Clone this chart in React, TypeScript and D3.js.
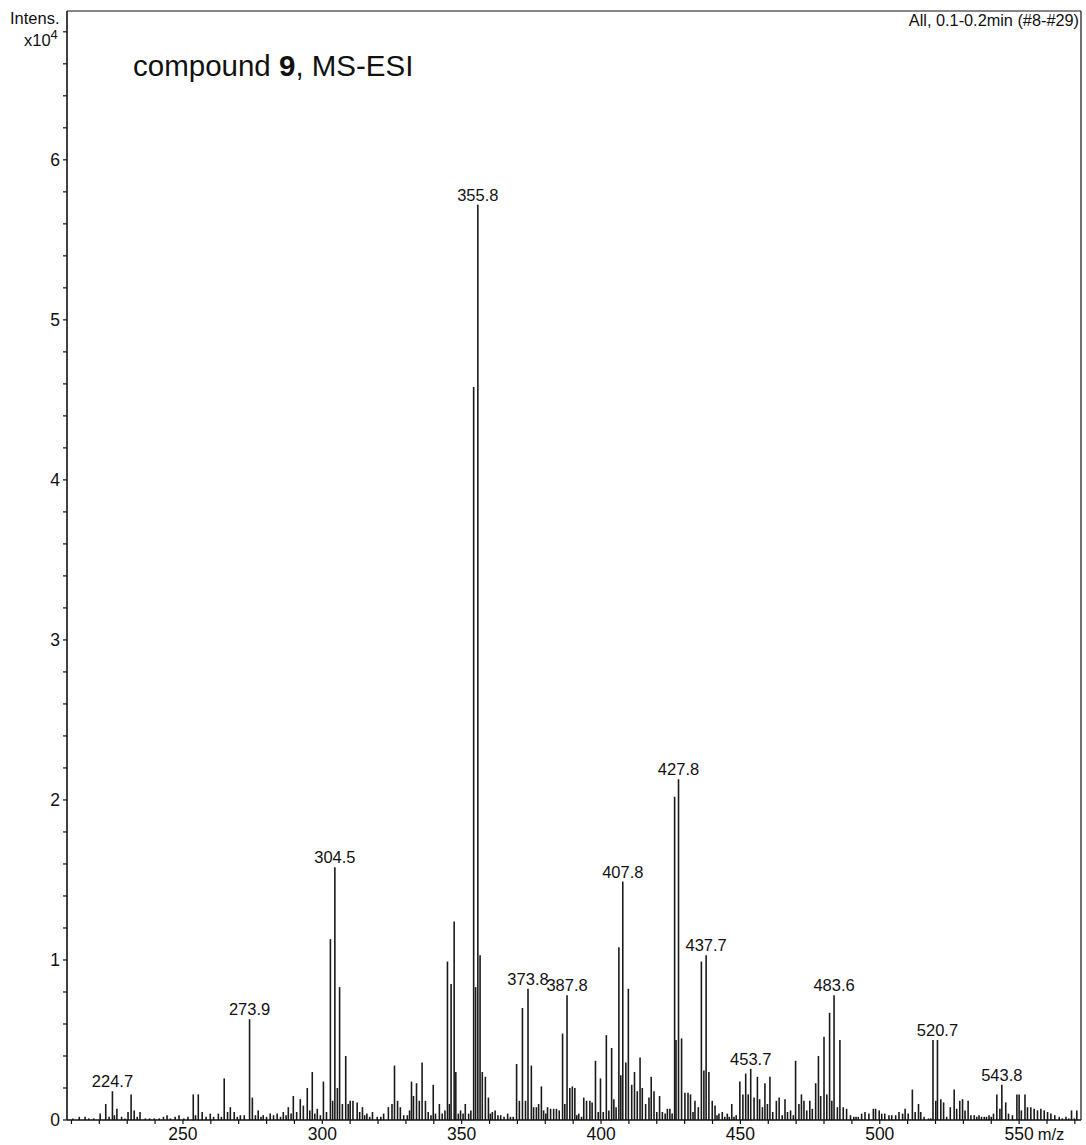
import React from "react";
import * as d3 from "d3";

// m/z, intensity (x10^4)
const peaksLow: [number, number][] = [
  [210.5, 0.01], [212.8, 0.02], [214.9, 0.02], [216.2, 0.01], [218.0, 0.01], [220.3, 0.04], [222.3, 0.1],
  [223.5, 0.02], [224.7, 0.18], [225.4, 0.03], [226.3, 0.07], [228.0, 0.02], [229.2, 0.01], [230.3, 0.05],
  [231.4, 0.16], [232.5, 0.06], [233.6, 0.02], [234.6, 0.05], [236.5, 0.01], [238.0, 0.01], [239.7, 0.01],
  [241.5, 0.01], [243.0, 0.02], [244.3, 0.03], [245.5, 0.01], [247.2, 0.02], [248.6, 0.03], [250.3, 0.01],
  [251.8, 0.02], [253.7, 0.16], [254.5, 0.03], [255.5, 0.16], [256.9, 0.05], [258.3, 0.02], [259.8, 0.04],
  [261.0, 0.02], [262.7, 0.04], [263.8, 0.02], [264.8, 0.26], [266.0, 0.05], [267.0, 0.08], [268.4, 0.05],
  [269.5, 0.02], [270.6, 0.03], [272.0, 0.03], [273.9, 0.63], [274.9, 0.14], [276.0, 0.03], [277.0, 0.06],
  [278.0, 0.02], [278.8, 0.03], [280.0, 0.02], [281.3, 0.04], [282.5, 0.03], [283.8, 0.04], [285.0, 0.02],
  [286.0, 0.05], [287.0, 0.03], [287.8, 0.08], [288.8, 0.04], [289.6, 0.15], [290.8, 0.05], [292.1, 0.13],
  [293.2, 0.09], [294.6, 0.2], [295.5, 0.06], [296.4, 0.3], [297.3, 0.04], [298.2, 0.07], [299.3, 0.03],
  [300.4, 0.24], [301.5, 0.05],
];

const peaksMid: [number, number][] = [
  [302.9, 1.13], [303.7, 0.12], [304.5, 1.58], [305.4, 0.2], [306.2, 0.83], [307.2, 0.1], [308.4, 0.4],
  [309.3, 0.1], [310.0, 0.12], [311.0, 0.12], [312.5, 0.11], [313.4, 0.05], [314.4, 0.08], [315.2, 0.03],
  [316.0, 0.04], [317.0, 0.02], [318.0, 0.05], [319.7, 0.02], [321.0, 0.02], [322.0, 0.04], [323.7, 0.08],
  [325.0, 0.1], [325.9, 0.34], [327.0, 0.12], [328.0, 0.08], [329.2, 0.03], [330.5, 0.03], [331.3, 0.06],
  [332.0, 0.24], [332.7, 0.15], [333.8, 0.23], [334.8, 0.12], [335.8, 0.36], [337.0, 0.12], [338.0, 0.05],
  [339.0, 0.03], [339.8, 0.22], [340.6, 0.04], [342.0, 0.1], [343.0, 0.04], [344.0, 0.06], [344.9, 0.99],
  [345.6, 0.1], [346.2, 0.85], [347.3, 1.24], [347.9, 0.3], [348.8, 0.04], [349.6, 0.06], [350.5, 0.04],
  [351.3, 0.1], [352.5, 0.04], [353.3, 0.06], [354.3, 4.58], [355.0, 0.83], [355.8, 5.72], [356.6, 1.03],
  [357.4, 0.3], [358.5, 0.27], [359.6, 0.14], [360.3, 0.04], [361.0, 0.05], [362.0, 0.06], [363.0, 0.03],
  [364.0, 0.03], [365.2, 0.02], [366.5, 0.04], [367.5, 0.02], [368.5, 0.02], [369.7, 0.35], [370.7, 0.12],
  [371.8, 0.7], [372.9, 0.12], [373.8, 0.82], [375.0, 0.34], [375.8, 0.08], [376.8, 0.08], [377.6, 0.1],
  [378.6, 0.21], [379.4, 0.06], [380.2, 0.04], [380.8, 0.08], [381.9, 0.07], [383.0, 0.07], [384.0, 0.07],
  [385.0, 0.06], [386.2, 0.54], [387.0, 0.1], [387.8, 0.78], [388.8, 0.2], [389.7, 0.21], [390.6, 0.2],
  [391.3, 0.03], [392.0, 0.04], [393.0, 0.02], [393.8, 0.14], [394.8, 0.12], [396.0, 0.12], [396.8, 0.11],
  [398.0, 0.37], [399.0, 0.05], [399.8, 0.26], [400.8, 0.05],
];

const peaksHigh: [number, number][] = [
  [401.9, 0.53], [402.8, 0.06], [403.8, 0.45], [404.6, 0.13], [405.4, 0.08], [406.4, 1.08], [407.1, 0.28],
  [407.8, 1.49], [408.9, 0.36], [409.8, 0.82], [411.0, 0.22], [412.0, 0.3], [413.0, 0.18], [414.0, 0.39],
  [414.8, 0.2], [416.0, 0.1], [417.2, 0.14], [418.0, 0.27], [419.0, 0.18], [420.0, 0.05], [421.0, 0.15],
  [422.0, 0.05], [423.0, 0.04], [423.8, 0.07], [424.7, 0.07], [425.5, 0.04], [426.4, 2.02], [426.9, 0.5],
  [427.8, 2.13], [428.9, 0.51], [430.1, 0.17], [431.2, 0.17], [432.1, 0.16], [433.0, 0.05], [433.7, 0.12],
  [434.9, 0.08], [436.0, 0.99], [436.9, 0.31], [437.7, 1.03], [438.7, 0.3], [439.9, 0.12], [440.9, 0.09],
  [441.6, 0.03], [442.3, 0.04], [443.5, 0.05], [444.4, 0.02], [445.3, 0.04], [446.0, 0.02], [446.9, 0.1],
  [447.7, 0.02], [448.5, 0.03], [449.8, 0.24], [450.9, 0.16], [451.9, 0.29], [452.8, 0.16], [453.7, 0.32],
  [454.9, 0.14], [456.1, 0.27], [456.9, 0.13], [457.9, 0.08], [458.8, 0.23], [459.7, 0.1], [460.6, 0.27],
  [461.6, 0.05], [462.9, 0.12], [463.9, 0.14], [465.0, 0.03], [466.0, 0.13], [466.9, 0.05], [468.0, 0.06],
  [469.0, 0.03], [469.8, 0.37], [471.0, 0.1], [471.9, 0.16], [472.8, 0.12], [473.8, 0.06], [474.9, 0.12],
  [475.8, 0.07], [477.0, 0.23], [478.0, 0.4], [478.8, 0.15], [480.0, 0.52], [481.0, 0.16], [482.0, 0.67],
  [482.8, 0.12], [483.6, 0.78], [484.8, 0.08], [485.7, 0.5], [486.9, 0.08], [488.1, 0.07], [489.5, 0.03],
  [490.7, 0.02], [491.5, 0.02], [492.3, 0.02], [493.5, 0.04], [494.7, 0.05], [496.1, 0.04], [497.7, 0.07],
  [498.5, 0.07], [499.8, 0.06], [500.7, 0.04], [501.8, 0.04], [503.3, 0.03], [504.3, 0.03], [505.7, 0.03],
  [506.9, 0.05], [508.2, 0.04], [509.1, 0.07], [510.2, 0.04], [511.7, 0.19], [512.7, 0.05], [513.9, 0.1],
  [514.7, 0.05], [515.9, 0.02], [517.5, 0.01], [518.3, 0.01], [519.1, 0.5], [520.1, 0.12], [520.7, 0.5],
  [521.9, 0.13], [522.9, 0.11], [524.0, 0.02], [525.3, 0.08], [526.7, 0.19], [527.6, 0.07], [528.7, 0.12],
  [529.7, 0.13], [530.6, 0.06], [531.7, 0.12], [532.7, 0.03], [533.9, 0.03], [534.8, 0.02], [535.6, 0.03],
  [536.5, 0.02], [537.5, 0.02], [538.3, 0.02], [539.2, 0.03], [540.0, 0.02], [540.8, 0.04], [542.0, 0.16],
  [543.1, 0.07], [543.8, 0.22], [545.2, 0.11], [546.2, 0.04], [547.6, 0.03], [549.2, 0.16], [550.0, 0.16],
  [550.8, 0.06], [552.1, 0.16], [553.0, 0.08], [554.2, 0.08], [555.4, 0.07], [556.6, 0.06], [557.8, 0.07],
  [559.0, 0.06], [560.2, 0.05], [561.4, 0.04], [562.8, 0.03], [564.4, 0.02], [565.5, 0.01], [566.8, 0.02],
  [567.8, 0.01], [568.8, 0.06], [569.8, 0.01], [570.7, 0.06],
];

const labeledPeaks: string[] = [
  "224.7", "273.9", "304.5", "355.8", "373.8", "387.8", "407.8", "427.8", "437.7", "453.7", "483.6", "520.7", "543.8",
];

const xTickLabels: number[] = [250, 300, 350, 400, 450, 500, 550];
const yTickLabels: number[] = [0, 1, 2, 3, 4, 5, 6];

const FONT = "'Liberation Sans', Arial, Helvetica, sans-serif";

export default function App() {
  const W = 1086;
  const H = 1145;
  const left = 67;
  const right = 1081;
  const top = 11;
  const bottom = 1120;

  const x = d3.scaleLinear().domain([208.4, 572.2]).range([left, right]);
  const y = d3.scaleLinear().domain([0, 6.93]).range([bottom, top]);

  const peaks = [...peaksLow, ...peaksMid, ...peaksHigh];
  const minorX = d3.range(210, 572, 10);
  const minorY = d3.range(0, 6.9, 0.2);

  const labelData = labeledPeaks.map((l) => {
    const m = parseFloat(l);
    const p = peaks.reduce((best, q) => (Math.abs(q[0] - m) < Math.abs(best[0] - m) ? q : best), peaks[0]);
    return { label: l, mz: p[0], v: p[1] };
  });

  return (
    <svg
      width={W}
      height={H}
      viewBox={`0 0 ${W} ${H}`}
      style={{ position: "absolute", left: 0, top: 0, background: "#fff" }}
      fontFamily={FONT}
    >
      <rect x={0} y={0} width={W} height={H} fill="#fff" />
      {/* bars */}
      <g stroke="#1a1a1a" strokeWidth={1.6}>
        {peaks.map(([m, v], i) => (
          <line key={i} x1={x(m)} x2={x(m)} y1={y(0)} y2={y(v)} />
        ))}
      </g>
      {/* frame */}
      <g stroke="#111" fill="none">
        <line x1={left} x2={left} y1={top} y2={bottom} strokeWidth={1.6} />
        <line x1={left} x2={right} y1={bottom} y2={bottom} strokeWidth={1.6} />
        <line x1={left} x2={right} y1={top} y2={top} strokeWidth={1.2} />
        <line x1={right} x2={right} y1={top} y2={bottom} strokeWidth={1.2} />
      </g>
      {/* y ticks */}
      <g stroke="#111" strokeWidth={1.2}>
        {minorY.map((t, i) => (
          <line key={i} x1={left - 4} x2={left} y1={y(t)} y2={y(t)} />
        ))}
      </g>
      <g fontSize={17.5} fill="#111" textAnchor="end">
        {yTickLabels.map((t) => (
          <text key={t} x={left - 7} y={y(t) + 6}>
            {t}
          </text>
        ))}
      </g>
      {/* x ticks */}
      <g stroke="#111" strokeWidth={1.2}>
        {minorX.map((t, i) => (
          <line key={i} x1={x(t)} x2={x(t)} y1={bottom} y2={bottom + 4} />
        ))}
      </g>
      <g fontSize={17.5} fill="#111" textAnchor="middle">
        {xTickLabels.map((t) => (
          <text key={t} x={x(t)} y={1140}>
            {t}
          </text>
        ))}
      </g>
      <text x={1051} y={1140} fontSize={16.5} fill="#111" textAnchor="middle">
        m/z
      </text>
      {/* axis title */}
      <text x={10} y={24} fontSize={16.5} fill="#111">
        Intens.
      </text>
      <text x={24} y={46} fontSize={16.5} fill="#111">
        x10
        <tspan dy={-7} fontSize={13}>4</tspan>
      </text>
      <text x={1079} y={26} fontSize={16.3} fill="#111" textAnchor="end">
        All, 0.1-0.2min (#8-#29)
      </text>
      {/* title */}
      <text x={133} y={76} fontSize={29.5} fill="#111">
        compound <tspan fontWeight="bold">9</tspan>, MS-ESI
      </text>
      {/* peak labels */}
      <g fontSize={16.5} fill="#111" textAnchor="middle">
        {labelData.map((d) => (
          <text key={d.label} x={x(d.mz)} y={y(d.v) - 4}>
            {d.label}
          </text>
        ))}
      </g>
    </svg>
  );
}
